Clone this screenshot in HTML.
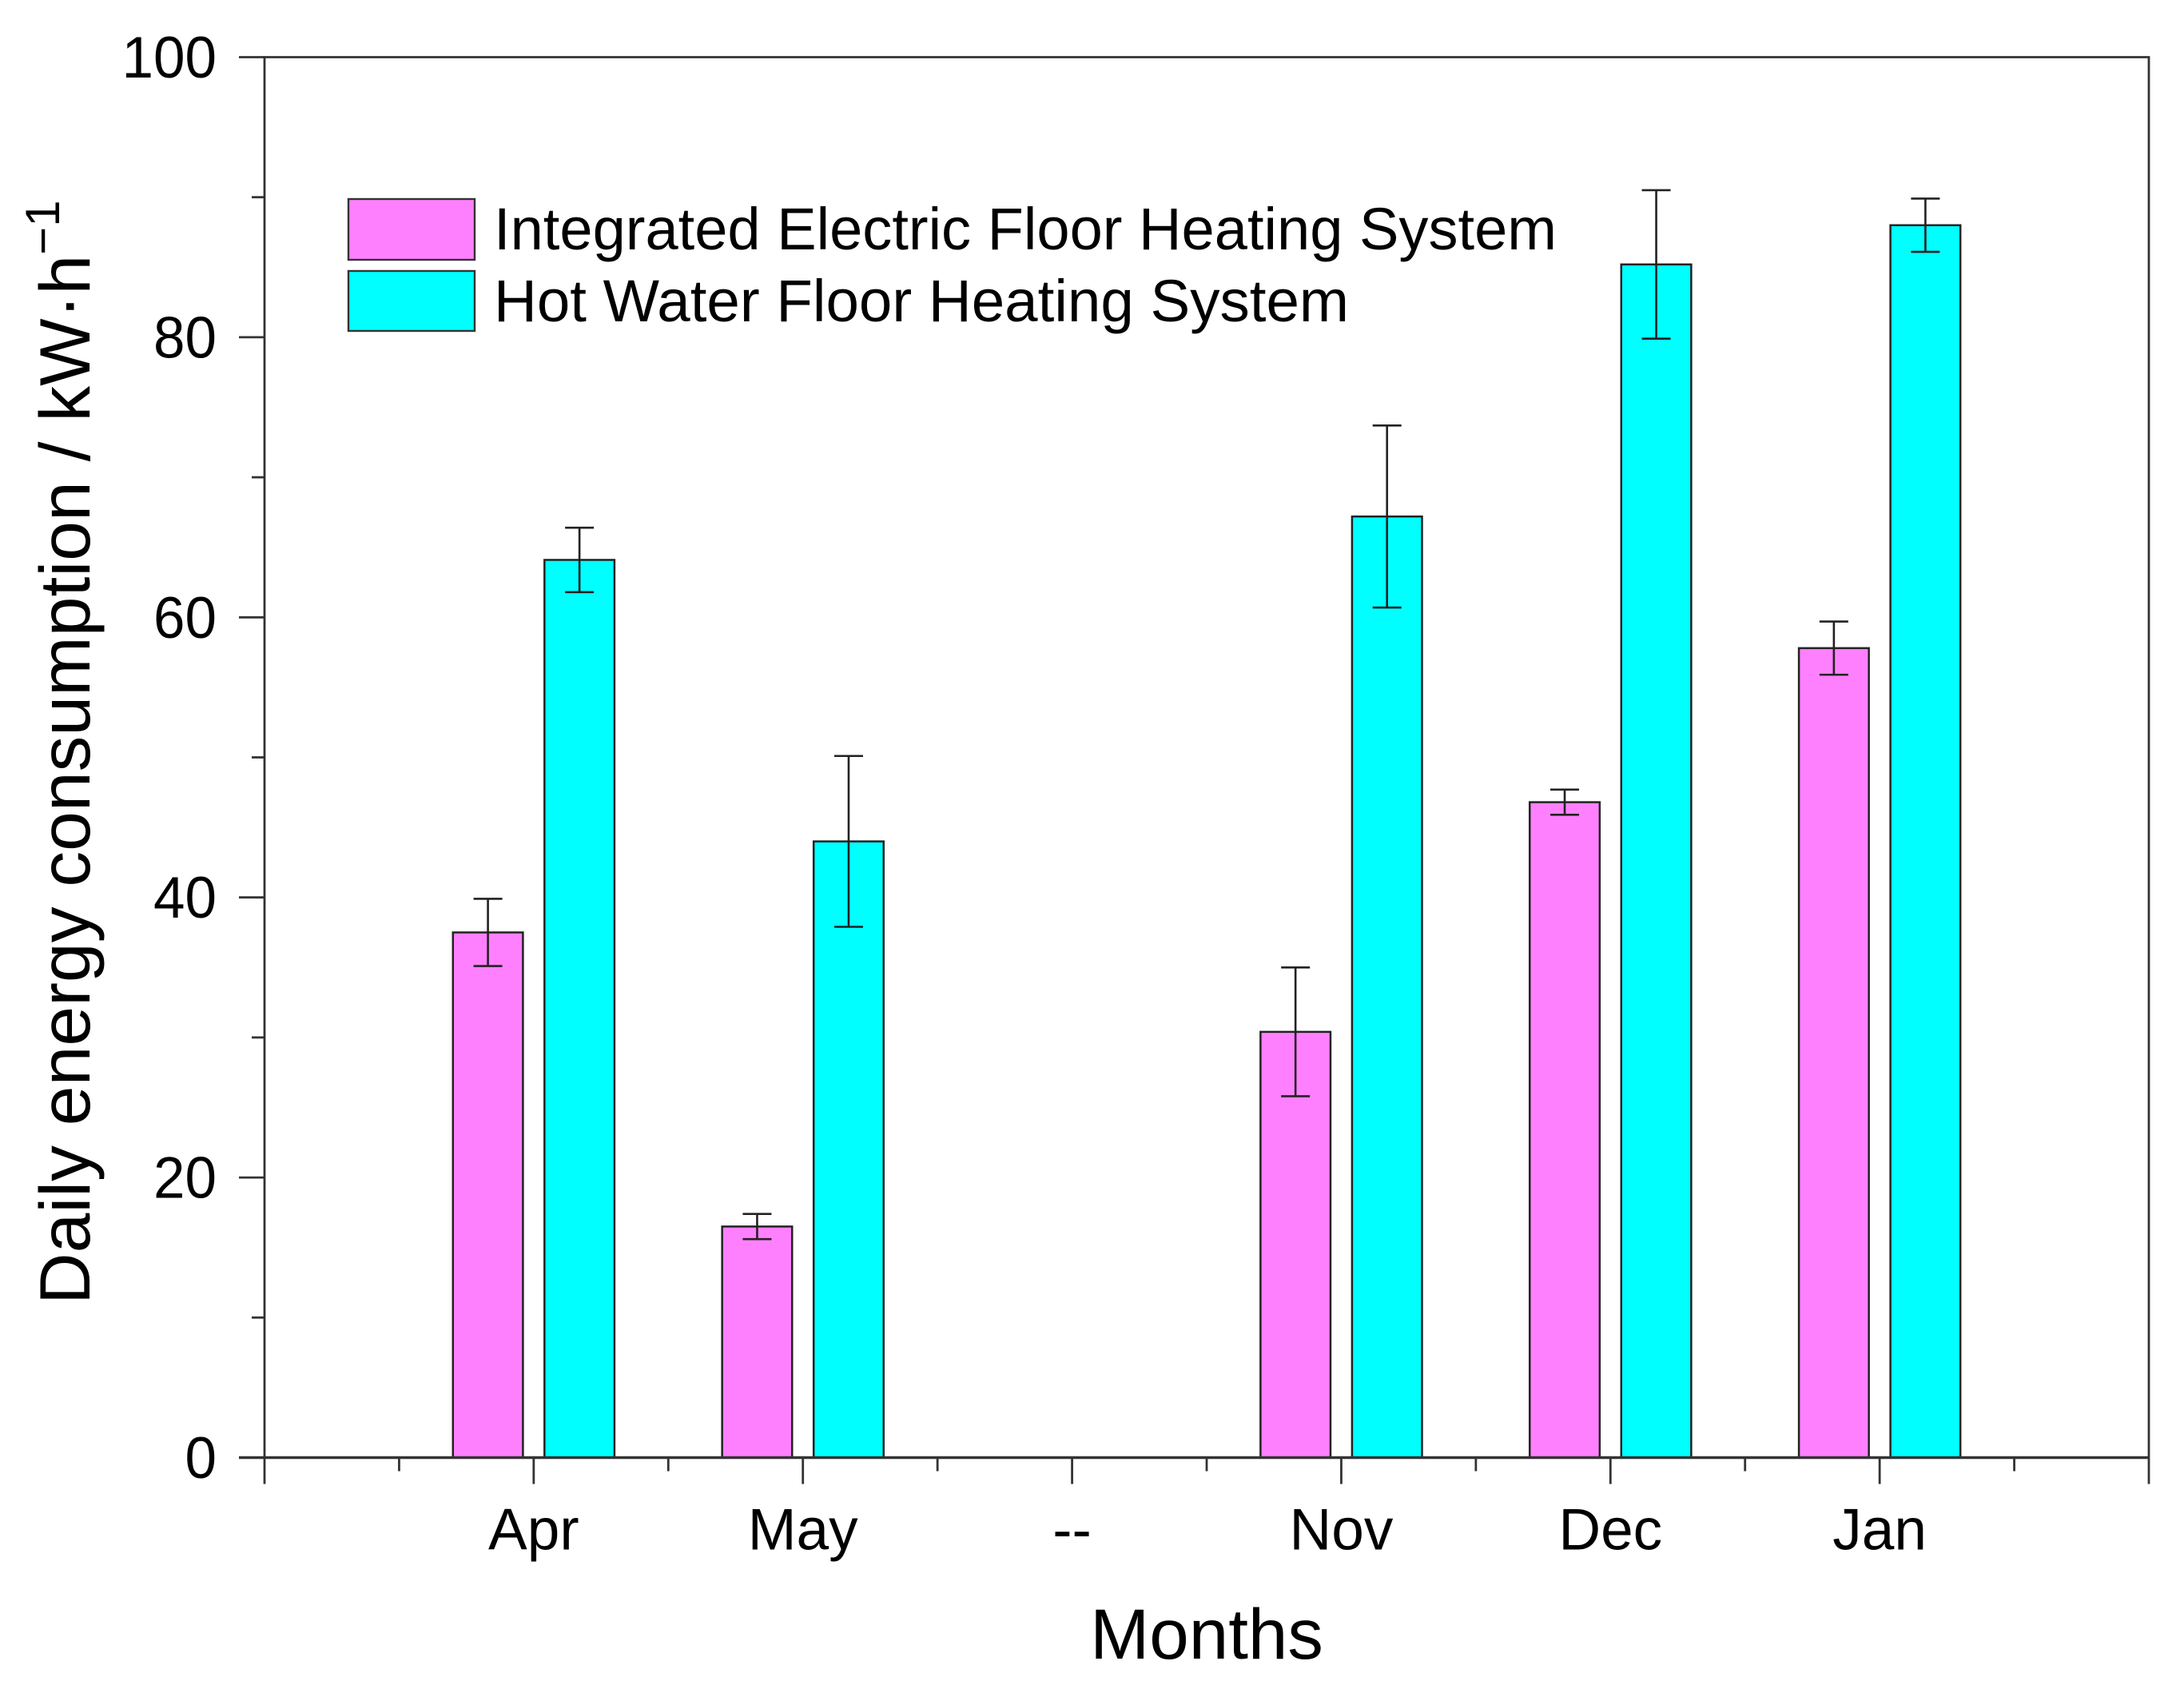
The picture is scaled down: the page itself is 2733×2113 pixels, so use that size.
<!DOCTYPE html>
<html>
<head>
<meta charset="utf-8">
<title>Daily energy consumption chart</title>
<style>
html,body{margin:0;padding:0;background:#fff;width:2733px;height:2113px;overflow:hidden}
svg{display:block;font-family:"Liberation Sans",Arial,sans-serif}
</style>
</head>
<body>
<svg id="chart" xmlns="http://www.w3.org/2000/svg" width="2733" height="2113" viewBox="0 0 2733 2113"></svg>
<script>
const categories = ["", "Apr", "May", "--", "Nov", "Dec", "Jan", ""];
const electricValues = [37.5, 16.5, 30.4, 46.8, 57.8];
const electricErrors = [2.4, 0.9, 4.6, 0.9, 1.9];
const hotWaterValues = [64.1, 44.0, 67.2, 85.2, 88.0];
const hotWaterErrors = [2.3, 6.1, 6.5, 5.3, 1.9];
const barPositions = [1, 2, 4, 5, 6];
const yTickValues = [0, 20, 40, 60, 80, 100];
const yMinorValues = [10, 30, 50, 70, 90];
const xMinorValues = [0.5, 1.5, 2.5, 3.5, 4.5, 5.5, 6.5];

const NS = "http://www.w3.org/2000/svg";
const svg = document.getElementById("chart");
const plot = { left: 331, right: 2689, top: 71.5, bottom: 1823.5 };
const xMax = 7, yMax = 100;
const AXIS = "#333";
const xScale = v => plot.left + (plot.right - plot.left) * v / xMax;
const yScale = v => plot.bottom - (plot.bottom - plot.top) * v / yMax;
const barWidth = 0.26, barOffset = 0.17;

function make(tag, attrs, parent) {
  const el = document.createElementNS(NS, tag);
  for (const k in attrs) el.setAttribute(k, attrs[k]);
  (parent || svg).appendChild(el);
  return el;
}

// Bars and error bars
function drawSeries(values, errors, positions, offset, color, label) {
  values.forEach((v, i) => {
    const cx = xScale(positions[i] + offset);
    const w = xScale(barWidth) - xScale(0);
    const bar = make("rect", {
      x: cx - w / 2, y: yScale(v), width: w, height: yScale(0) - yScale(v),
      fill: color, stroke: "#222", "stroke-width": 2.5
    });
    
    
  });
  values.forEach((v, i) => {
    const cx = xScale(positions[i] + offset);
    const hi = yScale(v + errors[i]), lo = yScale(v - errors[i]);
    const capW = 18;
    const g = make("path", {
      d: `M${cx} ${hi}V${lo}M${cx - capW} ${hi}H${cx + capW}M${cx - capW} ${lo}H${cx + capW}`,
      fill: "none", stroke: "#222", "stroke-width": 2.6
    });
    
    
  });
}
drawSeries(electricValues, electricErrors, barPositions, -barOffset, "#ff80ff", "electric");
drawSeries(hotWaterValues, hotWaterErrors, barPositions, barOffset, "#00ffff", "hot-water");

// Plot frame
const frame = make("path", {
  d: `M${plot.left} ${plot.bottom}V${plot.top}H${plot.right}V${plot.bottom}`,
  fill: "none", stroke: AXIS, "stroke-width": 2.8
});



const xAxisLine = make("line", {
  x1: plot.left - 32, x2: plot.right, y1: plot.bottom, y2: plot.bottom,
  stroke: AXIS, "stroke-width": 3.5
});



// Y ticks
yTickValues.forEach(v => {
  const y = yScale(v);
  const t = make("line", { x1: plot.left - 32, x2: plot.left, y1: y, y2: y, stroke: AXIS, "stroke-width": 2.8 });
  
  
  const l = make("text", { x: 271, y: y + 25.5, "text-anchor": "end", "font-size": 73, "textLength": String(v).length * 39.5, "lengthAdjust": "spacingAndGlyphs", fill: "#000" });
  l.textContent = String(v);
  
  
});
yMinorValues.forEach(v => {
  const y = yScale(v);
  const t = make("line", { x1: plot.left - 16, x2: plot.left, y1: y, y2: y, stroke: AXIS, "stroke-width": 2.8 });
  
  
});

// X ticks
categories.forEach((c, i) => {
  const x = xScale(i);
  const t = make("line", { x1: x, x2: x, y1: plot.bottom, y2: plot.bottom + 33, stroke: AXIS, "stroke-width": 2.8 });
  
  
  if (c) {
    const l = make("text", { x: x, y: 1938.5, "text-anchor": "middle", "font-size": 73, fill: "#000" });
    l.textContent = c;
    
    
  }
});
xMinorValues.forEach(v => {
  const x = xScale(v);
  const t = make("line", { x1: x, x2: x, y1: plot.bottom, y2: plot.bottom + 17, stroke: AXIS, "stroke-width": 2.8 });
  
  
});

// Axis titles
const xTitle = make("text", { x: 1510, y: 2075, "text-anchor": "middle", "font-size": 89, fill: "#000" });
xTitle.textContent = "Months";



const yTitle = make("text", { transform: "translate(112 1632) rotate(-90)", "font-size": 89.5, fill: "#000" });


const yMain = make("tspan", {}, yTitle);
yMain.textContent = "Daily energy consumption / kW·h";
const ySup = make("tspan", { dy: -38, "font-size": 60 }, yTitle);
ySup.textContent = "−1";

// Legend
const swatchA = make("rect", { x: 436, y: 249, width: 158, height: 76, fill: "#ff80ff", stroke: "#333", "stroke-width": 2.4 });


const swatchB = make("rect", { x: 436, y: 339, width: 158, height: 75, fill: "#00ffff", stroke: "#333", "stroke-width": 2.4 });


const legendA = make("text", { x: 618, y: 312, "font-size": 74, textLength: 1330, lengthAdjust: "spacingAndGlyphs", fill: "#000" });
legendA.textContent = "Integrated Electric Floor Heating System";


const legendB = make("text", { x: 618, y: 402, "font-size": 74, textLength: 1070, lengthAdjust: "spacingAndGlyphs", fill: "#000" });
legendB.textContent = "Hot Water Floor Heating System";


</script>
</body>
</html>
